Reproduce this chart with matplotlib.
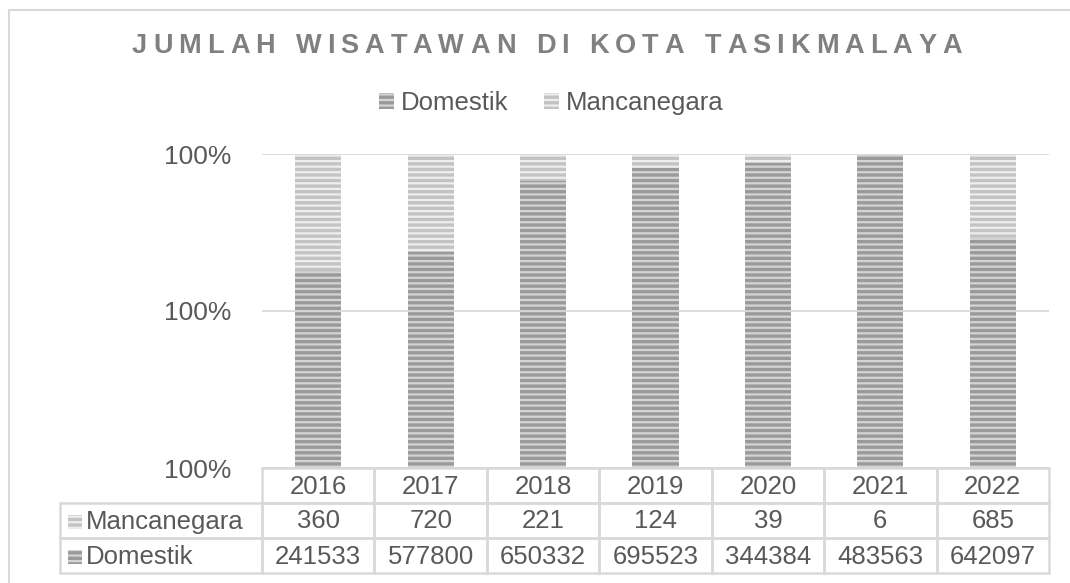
import matplotlib
matplotlib.use("Agg")
import matplotlib.pyplot as plt
from matplotlib.patches import Patch, Rectangle
from matplotlib.ticker import PercentFormatter
import numpy as np

# data
years = ["2016", "2017", "2018", "2019", "2020", "2021", "2022"]
domestik = [241533, 577800, 650332, 695523, 344384, 483563, 642097]
mancanegara = [360, 720, 221, 124, 39, 6, 685]
series_names = ["Domestik", "Mancanegara"]
title = "JUMLAH WISATAWAN DI KOTA TASIKMALAYA"

W, H = 1070, 583
plt.rcParams['font.family'] = ['Liberation Sans', 'DejaVu Sans']
plt.rcParams['hatch.linewidth'] = 2.4
TXT = "#595959"
GRID = "#d9d9d9"
DOM_FACE, DOM_HATCH = "#d4d4d4", "#9a9a9a"
MAN_FACE, MAN_HATCH = "#eeeeee", "#c3c3c3"
FS = 18.5

fig = plt.figure(figsize=(W / 100, H / 100), dpi=100)

def px(x, y):
    # pixel position (from top-left) -> figure coords
    return x / W, 1 - y / H

def box(x0, y0, x1, y1, **kw):
    fig.patches.append(Rectangle(px(x0, y1), (x1 - x0) / W, (y1 - y0) / H,
                                 transform=fig.transFigure, **kw))

# outer chart frame (right/bottom edges fall outside the image)
box(9, 10, 1100, 620, fill=False, edgecolor=GRID, lw=1.5)

ax_l, ax_r, ax_t, ax_b = 262, 1049, 154, 468
ax = fig.add_axes([ax_l / W, 1 - ax_b / H, (ax_r - ax_l) / W, (ax_b - ax_t) / H])

dom = np.array(domestik, float)
man = np.array(mancanegara, float)
tot = dom + man
x = np.arange(len(years))
bw = 0.41
ax.bar(x, dom / tot, bw, facecolor=DOM_FACE, edgecolor=DOM_HATCH, hatch="---", lw=0, zorder=2)
ax.bar(x, man / tot, bw, bottom=dom / tot, facecolor=MAN_FACE, edgecolor=MAN_HATCH,
       hatch="---", lw=0, zorder=2)

ax.set_xlim(-0.5, len(years) - 0.5)
ax.set_ylim(0.996, 1.0)
ax.set_yticks([0.996, 0.998, 1.0])
ax.yaxis.set_major_formatter(PercentFormatter(xmax=1, decimals=0))
ax.grid(axis="y", color=GRID, lw=1.3, zorder=0)
ax.tick_params(length=0, labelsize=FS + 0.5, labelcolor=TXT, pad=22)
ax.set_xticks([])
for s in ax.spines.values():
    s.set_visible(False)

# data table under the plot, drawn cell by cell
tb_l = 60
row_h = 35
col_w = (ax_r - ax_l) / len(years)
cell_kw = dict(fill=False, edgecolor=GRID, lw=1.8)
rows = [mancanegara, domestik]
row_names = ["Mancanegara", "Domestik"]
row_cols = [(MAN_FACE, MAN_HATCH), (DOM_FACE, DOM_HATCH)]
for j, yr in enumerate(years):
    cx0 = ax_l + j * col_w
    box(cx0, ax_b, cx0 + col_w, ax_b + row_h, **cell_kw)
    fig.text(*px(cx0 + col_w / 2, ax_b + row_h / 2 + 1), yr, fontsize=FS, color=TXT,
             ha="center", va="center")
for i, vals in enumerate(rows):
    ry0 = ax_b + row_h * (i + 1)
    cy = ry0 + row_h / 2 + 1
    box(tb_l, ry0, ax_l, ry0 + row_h, **cell_kw)
    box(68, cy - 7, 82, cy + 7, facecolor=row_cols[i][0], edgecolor=row_cols[i][1],
        hatch="---", lw=0)
    fig.text(*px(86, cy), row_names[i], fontsize=FS, color=TXT, ha="left", va="center")
    for j, v in enumerate(vals):
        cx0 = ax_l + j * col_w
        box(cx0, ry0, cx0 + col_w, ry0 + row_h, **cell_kw)
        fig.text(*px(cx0 + col_w / 2, cy), str(v), fontsize=FS, color=TXT,
                 ha="center", va="center")

# legend
handles = [Patch(facecolor=DOM_FACE, edgecolor=DOM_HATCH, hatch="---", lw=0),
           Patch(facecolor=MAN_FACE, edgecolor=MAN_HATCH, hatch="---", lw=0)]
fig.legend(handles, series_names, loc="center", bbox_to_anchor=px(551, 103), ncol=2,
           frameon=False, fontsize=FS, labelcolor=TXT, handlelength=0.6,
           handleheight=0.6, handletextpad=0.25, columnspacing=1.4)

# letter-spaced title
renderer = fig.canvas.get_renderer()
t_left, t_right, t_y = 132, 962, 46
chars = []
widths = []
for ch in title:
    t = fig.text(0, 0, ch if ch != " " else "n", fontsize=19.5, fontweight="bold",
                 color="#808080")
    w = t.get_window_extent(renderer).width
    if ch == " ":
        w *= 0.5
        t.set_text("")
    chars.append(t)
    widths.append(w)
gap = (t_right - t_left - sum(widths)) / (len(title) - 1)
cx = t_left
for t, w in zip(chars, widths):
    t.set_position(px(cx, t_y))
    t.set_va("center")
    cx += w + gap

fig.savefig("out.png", dpi=100)
